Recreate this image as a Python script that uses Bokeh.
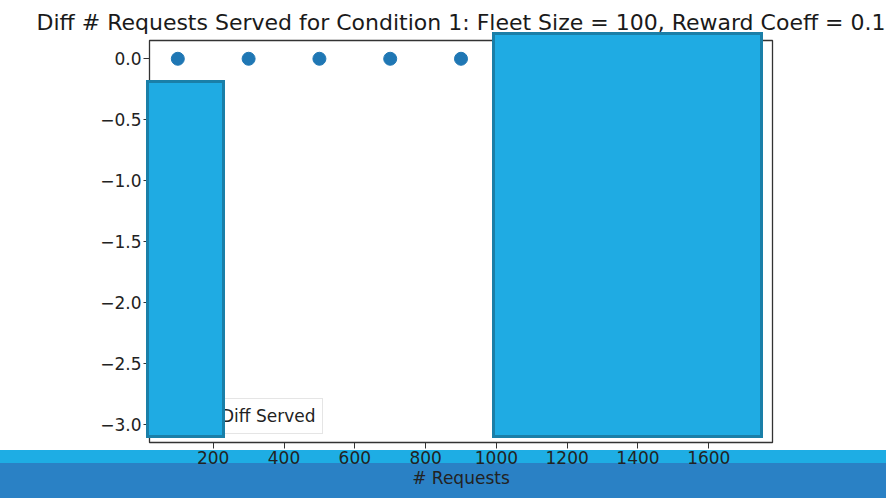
from bokeh.plotting import figure
from bokeh.models import (Range1d, FixedTicker, CustomJSTickFormatter,
                          Legend, LegendItem, InlineStyleSheet)
from bokeh.embed import file_html
from bokeh.resources import INLINE

# ---- data ----
num_requests = [100, 300, 500, 700, 900, 1100, 1300, 1500, 1700]
diff_served = [0, 0, 0, 0, 0, 0, 0, -3, 0]
x_ticks = [200, 400, 600, 800, 1000, 1200, 1400, 1600]
y_ticks = [0.0, -0.5, -1.0, -1.5, -2.0, -2.5, -3.0]
title_text = "Diff # Requests Served for Condition 1: Fleet Size = 100, Reward Coeff = 0.1"

FONT = "DejaVu Sans"

# occluding boxes and bands seen in the screenshot (not data)
overlay_css = InlineStyleSheet(css="""
:host {
  position: relative;
  background: linear-gradient(to bottom, #ffffff 0px, #ffffff 450px,
                              #1eade4 450px, #1eade4 463px,
                              #2a81c5 463px, #2a81c5 100%);
  box-shadow: 0 8px 0 0 #2a81c5;
}
:host::after {
  content: "";
  position: absolute;
  left: 146px; top: 80px; width: 79px; height: 358px;
  background: #1fabe3; border: 3px solid #1a7fa8; box-sizing: border-box;
  z-index: 10; pointer-events: none;
}
:host::before {
  content: "";
  position: absolute;
  left: 492px; top: 32px; width: 271px; height: 406px;
  background: #1fabe3; border: 3px solid #1a7fa8; box-sizing: border-box;
  z-index: 10; pointer-events: none;
}
""")

p = figure(width=886, height=490, output_backend="svg", toolbar_location=None,
           x_range=Range1d(20, 1780), y_range=Range1d(-3.15, 0.15),
           min_border_left=149, min_border_right=114, min_border_top=40, min_border_bottom=48,
           stylesheets=[overlay_css])

p.title.text = title_text
p.title.align = "center"
p.title.text_font = FONT
p.title.text_font_size = "22px"
p.title.text_font_style = "normal"
p.title.text_color = "#1a1a1a"
p.title.standoff = 11

p.grid.visible = False
p.outline_line_color = "#333333"
p.outline_line_width = 1.3
p.background_fill_color = "white"
p.border_fill_alpha = 0.0

for ax in (p.xaxis[0], p.yaxis[0]):
    ax.major_label_text_font = FONT
    ax.major_label_text_font_size = "17px"
    ax.major_label_text_color = "#222222"
    ax.major_tick_in = 0
    ax.major_tick_out = 6
    ax.major_tick_line_color = "#333333"
    ax.minor_tick_line_color = None
    ax.axis_line_color = "#333333"
    ax.major_label_standoff = 2

p.xaxis.ticker = FixedTicker(ticks=x_ticks)
p.yaxis.ticker = FixedTicker(ticks=y_ticks)
p.yaxis.formatter = CustomJSTickFormatter(code="return tick.toFixed(1).replace('-', '\\u2212');")
p.xaxis.axis_label = "# Requests"
p.xaxis.axis_label_text_font = FONT
p.xaxis.axis_label_text_font_size = "17px"
p.xaxis.axis_label_text_font_style = "normal"
p.xaxis.axis_label_text_color = "#222222"
p.xaxis.axis_label_standoff = 1

r = p.scatter(num_requests, diff_served, size=13, color="#1f77b4")

legend = Legend(items=[LegendItem(label="Diff Served", renderers=[r])], location="bottom_left")
legend.label_text_font = FONT
legend.label_text_font_size = "17px"
legend.label_text_color = "#222222"
legend.border_line_color = "#cccccc"
legend.border_line_width = 1
legend.margin = 8
legend.padding = 7
legend.glyph_width = 44
legend.label_standoff = 12
legend.background_fill_alpha = 1.0
p.add_layout(legend)

open("out.html", "w").write(file_html(p, INLINE))
